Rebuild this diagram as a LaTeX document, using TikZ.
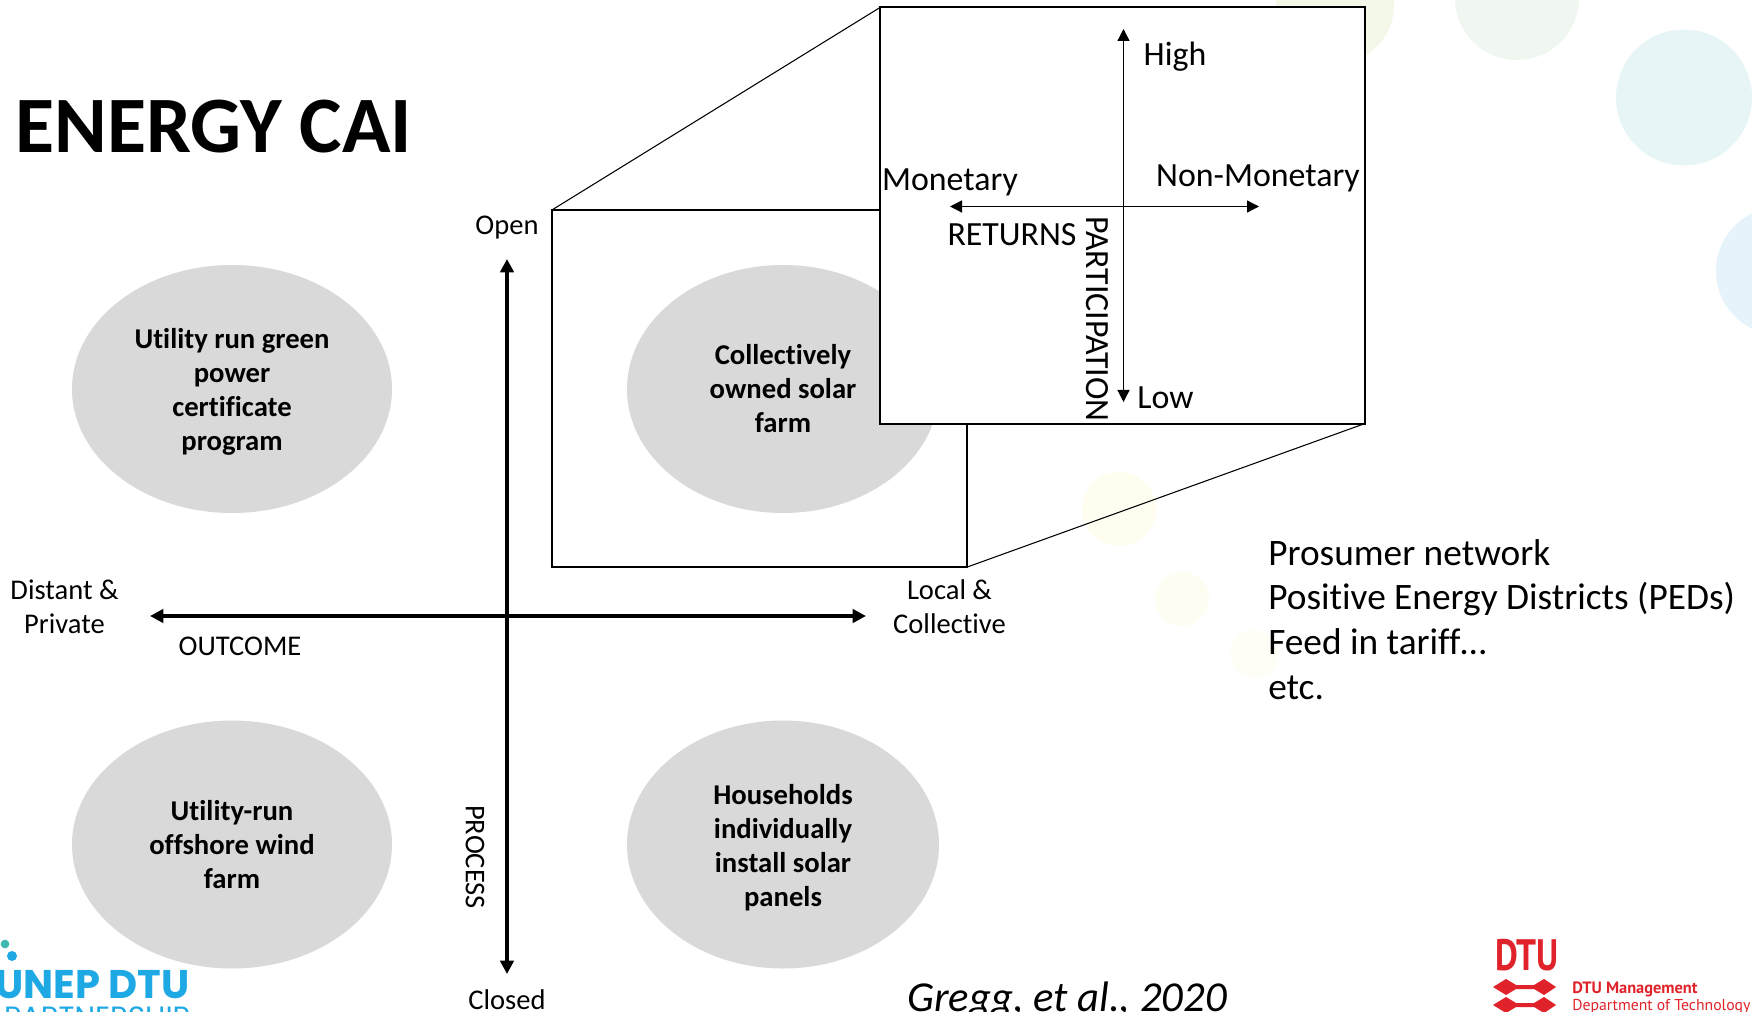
\documentclass[tikz,border=0pt]{standalone}
\usepackage{fontspec}
\setmainfont{Carlito}[Ligatures=NoCommon]
\newfontfamily\logofont{Poppins}
\newfontfamily\dtufont{PT Sans}
\usetikzlibrary{shapes.geometric,arrows.meta}
\definecolor{ell}{HTML}{D9D9D9}
\definecolor{unep}{HTML}{1EA9E5}
\definecolor{unept}{HTML}{3FB8AF}
\definecolor{dtured}{HTML}{E0232A}
\newcommand{\lowerstrut}{\rule{0pt}{19.5pt}}
\tikzset{
  blob/.style={ellipse,fill=ell,inner sep=0pt,minimum width=#1,align=center,font=\fontsize{21.5}{25.5}\selectfont\bfseries},
  framebox/.style={rectangle,draw=black,line width=1.5pt,fill=white,inner sep=0pt,outer sep=0pt},
  lab/.style={font=\fontsize{21.4}{25.5}\selectfont,align=center,inner sep=0pt},
  biglab/.style={font=\fontsize{25.4}{30}\selectfont,align=center,inner sep=0pt},
  mainaxis/.style={line width=3pt,{Triangle[length=10pt,width=10pt]}-{Triangle[length=10pt,width=10pt]}},
  thinaxis/.style={line width=1pt,{Triangle[length=9pt,width=9pt]}-{Triangle[length=9pt,width=9pt]}},
  zoomline/.style={line width=.8pt},
  dot/.style={circle,inner sep=0pt,minimum size=#1}
}
\begin{document}
\begin{tikzpicture}[x=.75pt,y=-.75pt]
\useasboundingbox (0,0) rectangle (1752,1012);
\clip (0,0) rectangle (1752,1012);
% pale background dots
\fill[white] (0,0) rectangle (1752,1012);
\fill[color={rgb,255:red,239;green,247;blue,240}] (1517,-2) circle (62);
\fill[color={rgb,255:red,232;green,245;blue,246}] (1684,97.5) circle (68);
\fill[color={rgb,255:red,230;green,243;blue,250}] (1780,271) circle (64);
\fill[color={rgb,255:red,244;green,248;blue,232}] (1335,5) circle (59);
\fill[color={rgb,255:red,254;green,253;blue,240}] (1119,509) circle (37);
\fill[color={rgb,255:red,254;green,253;blue,242}] (1182,599) circle (27);
\fill[color={rgb,255:red,254;green,254;blue,246}] (1254.5,654) circle (24);
% title
\node[anchor=base west,inner sep=0pt,font=\fontsize{60}{64}\selectfont\bfseries] (title) at (15,153) {ENERGY CAI};
% large box and ellipses
\node[framebox,minimum width=311pt,minimum height=268pt] (big) at (759.5,388.5) {};
\node[blob=240pt,minimum height=186pt] (e1) at (232,389) {\lowerstrut Utility run green\\power\\certificate\\program};
\node[blob=234pt,minimum height=186pt] (e2) at (783,389) {Collectively\\owned solar\\farm};
\node[blob=240pt,minimum height=186pt] (e3) at (232,844.5) {Utility-run\\offshore wind\\farm};
\node[blob=234pt,minimum height=186pt] (e4) at (783,844.5) {\lowerstrut Households\\individually\\install solar\\panels};
% zoom box
\node[framebox,minimum width=363.75pt,minimum height=312pt] (zoom) at (1122.5,215.5) {};
\draw[zoomline] (big.south east) -- (zoom.south east);
\draw[zoomline] (big.north west) -- (zoom.north west);
% main axes
\coordinate (ot) at (507,259); \coordinate (ob) at (507,974);
\coordinate (ol) at (150,616); \coordinate (or) at (866,616);
\draw[mainaxis] (ot) -- (ob);
\draw[mainaxis] (ol) -- (or);
% main labels
\node[lab] (open) at (507,228) {Open};
\node[lab] (closed) at (507,1000) {Closed};
\node[lab] (dp) at (64.5,607) {Distant \&\\Private};
\node[lab] (lc) at (949.5,607) {Local \&\\Collective};
\node[lab] (outcome) at (240,646) {OUTCOME};
\node[lab,rotate=-90] (process) at (475,857) {PROCESS};
% zoom axes
\coordinate (zt) at (1123.5,29); \coordinate (zb) at (1123.5,402);
\coordinate (zl) at (950,206.5); \coordinate (zr) at (1259,206.5);
\draw[thinaxis] (zt) -- (zb);
\draw[thinaxis] (zl) -- (zr);
\node[biglab] (high) at (1175,57) {High};
\node[biglab] (low) at (1165.5,398) {Low};
\node[biglab] (mon) at (950,182) {Monetary};
\node[biglab] (non) at (1258,178) {Non-Monetary};
\node[biglab] (ret) at (1012,235) {RETURNS};
\node[biglab,rotate=-90] (part) at (1097,319) {PARTICIPATION};
% list
\node[anchor=north west,inner sep=0pt,align=left,font=\fontsize{28}{33.5}\selectfont] (list) at (1268,539)
  {Prosumer network\\Positive Energy Districts (PEDs)\\Feed in tariff…\\etc.};
% citation
\node[anchor=base west,inner sep=0pt,font=\fontsize{32}{36}\selectfont\itshape] (cite) at (907,1011) {Gregg, et al., 2020};
% UNEP logo
\node[dot=6.5pt,fill=unept] (d1) at (5,944) {};
\node[dot=7.5pt,fill=unep] (d2) at (12,956) {};
\node[anchor=base east,inner sep=0pt,text=unep,font=\logofont\fontsize{30}{32}\selectfont\bfseries] (unepn) at (190,998) {UNEP DTU};
\node[anchor=base east,inner sep=0pt,text=unep,font=\logofont\fontsize{22}{30}\selectfont] (unepp) at (190,1027) {PARTNERSHIP};
% DTU logo
\node[anchor=base west,inner sep=0pt,text=dtured,font=\dtufont\fontsize{33}{34}\selectfont\bfseries,xscale=.8] (dtu) at (1495,970) {DTU};
\fill[dtured] (1493,987) -- (1506,979) -- (1516,985) -- (1534,985) -- (1544,979) -- (1556,987) -- (1544,995) -- (1534,989) -- (1516,989) -- (1506,995) -- cycle;
\fill[dtured] (1493,1005) -- (1506,997) -- (1516,1003) -- (1534,1003) -- (1544,997) -- (1556,1005) -- (1544,1013) -- (1534,1007) -- (1516,1007) -- (1506,1013) -- cycle;
\node[anchor=base west,inner sep=0pt,text=dtured,font=\dtufont\fontsize{12.3}{14}\selectfont\bfseries] (dm) at (1572,993) {DTU Management};
\node[anchor=base west,inner sep=0pt,text=dtured,font=\dtufont\fontsize{11.8}{14}\selectfont] (dd) at (1572,1010) {Department of Technology};
\end{tikzpicture}
\end{document}
